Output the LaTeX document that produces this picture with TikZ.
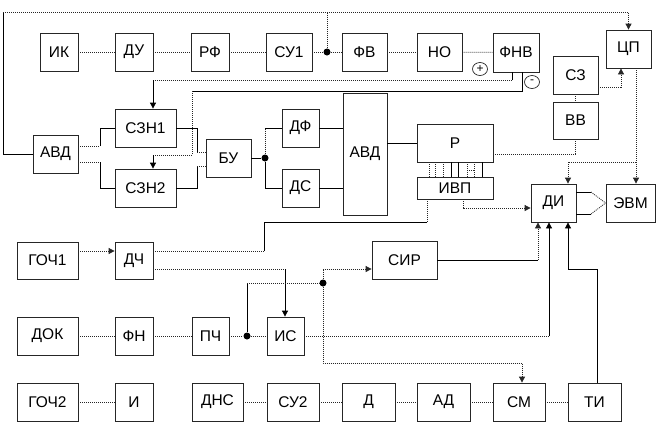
\documentclass[tikz,border=0pt]{standalone}
\usepackage{fontspec}
\setmainfont{Liberation Sans}
\usetikzlibrary{arrows.meta,shapes.geometric}
\begin{document}
\begin{tikzpicture}[x=1pt,y=-1pt,
  box/.style={draw=black!85, line width=0.8pt, fill=white, inner sep=0pt, font=\fontsize{15.5}{17}\selectfont},
  dl/.style={line width=0.8pt, dash pattern=on 1pt off 1pt, black!85},
  sl/.style={line width=0.8pt, black},
  arr/.style={-{Triangle[length=6pt,width=6pt]}},
  dotn/.style={circle, fill=black, inner sep=0pt, minimum size=7pt},
  pm/.style={ellipse, draw=black!85, line width=0.7pt, inner sep=0pt, minimum width=15pt, minimum height=13pt, font=\fontsize{12}{13}\selectfont}]
\useasboundingbox (0,0) rectangle (666,424);
\newcommand\bx[6]{\node[box,minimum width=#4pt,minimum height=#5pt] (#1) at (#2,#3) {#6};}
% row 1
\bx{ik}{59}{52}{38}{38}{ИК}
\bx{du}{134}{52}{38}{38}{ДУ}
\bx{rf}{210}{52}{38}{38}{РФ}
\bx{su1}{289}{52}{46}{38}{СУ1}
\bx{fv}{364.5}{52}{45}{38}{ФВ}
\bx{no}{439.5}{52}{45}{38}{НО}
\bx{fnv}{516}{52.5}{46}{39}{ФНВ}
\bx{cp}{628.5}{49}{45}{38}{ЦП}
\bx{sz}{575.5}{75}{45}{38}{СЗ}
\bx{vv}{575.5}{120.5}{45}{37}{ВВ}
% row 2
\bx{avd1}{55.5}{154}{45}{38}{АВД}
\bx{szn1}{145.5}{128}{61}{38}{СЗН1}
\bx{szn2}{145.5}{188}{61}{38}{СЗН2}
\bx{bu}{228.5}{158}{45}{38}{БУ}
\bx{df}{300.5}{128}{37}{38}{ДФ}
\bx{ds}{300.5}{188}{37}{38}{ДС}
\bx{avd2}{365}{154}{44}{122}{АВД}
\bx{r}{455}{143}{76}{38}{Р}
\bx{ivp}{455}{188}{76}{22}{ИВП}
\bx{di}{553.5}{203}{45}{38}{ДИ}
\bx{evm}{630.5}{203}{49}{38}{ЭВМ}
% row 3
\bx{goch1}{47.5}{260.5}{61}{37}{ГОЧ1}
\bx{dch}{134}{260.5}{38}{37}{ДЧ}
\bx{sir}{404.5}{260}{65}{38}{СИР}
% row 4
\bx{dok}{47.5}{336}{61}{38}{ДОК}
\bx{fn}{134}{336}{38}{38}{ФН}
\bx{pch}{210.5}{336}{37}{38}{ПЧ}
\bx{is}{285.5}{336}{37}{38}{ИС}
% row 5
\bx{goch2}{47.5}{402}{61}{38}{ГОЧ2}
\bx{ii}{134}{402}{38}{38}{И}
\bx{dns}{217.5}{402}{51}{38}{ДНС}
\bx{su2}{293}{402}{52}{38}{СУ2}
\bx{dd}{368.5}{402}{53}{38}{Д}
\bx{ad}{443.5}{402}{53}{38}{АД}
\bx{sm}{519}{402}{52}{38}{СМ}
\bx{ti}{594.5}{402}{53}{38}{ТИ}
% junction dots
\node[dotn] (j1) at (327,52) {};
\node[dotn] (j2) at (265,158) {};
\node[dotn] (j3) at (247,336) {};
\node[dotn] (j4) at (323,283) {};
% plus / minus
\node[pm] (plus) at (480,69) {+};
\node[pm] (minus) at (532,82) {-};
% coordinates
\coordinate (tl) at (3,12);
\coordinate (f1) at (512,80);
\coordinate (a1) at (153,0);
\coordinate (f2) at (522,91);
\coordinate (f3) at (192,91);
\coordinate (f4) at (192,155);
\coordinate (f5) at (153,155);
\coordinate (g1) at (621,87);
\coordinate (g2) at (575.5,154);
\coordinate (g3) at (636,162);
\coordinate (g4) at (568,0);
\coordinate (h1) at (100,146);
\coordinate (h2) at (100,162);
\coordinate (k1) at (197,152);
\coordinate (k2) at (197,166);
\coordinate (m1) at (463,208);
\coordinate (n1) at (264,251);
\coordinate (n2) at (264,222);
\coordinate (n3) at (427,222);
\coordinate (q1) at (591,192);
\coordinate (q2) at (591,214);
\coordinate (p1) at (285,269);
\coordinate (p2) at (247,283);
\coordinate (p3) at (323,269);
\coordinate (p4) at (323,363);
\coordinate (p5) at (522,363);
\coordinate (p6) at (549,336);
\coordinate (p7) at (538,260);
\coordinate (p8) at (597,269);
\coordinate (p9) at (568,269);
% top loop
\draw[sl] (avd1.west) -| (tl);
\draw[dl,arr] (tl) -| (cp.north);
\draw[dl] (j1) -- (j1 |- tl);
% row 1 chain
\draw[dl] (ik) -- (du);
\draw[dl] (du) -- (rf);
\draw[dl] (rf) -- (su1);
\draw[dl] (su1) -- (j1);
\draw[dl] (j1) -- (fv);
\draw[dl] (fv) -- (no);
\draw[dl] (no) -- (fnv);
% ФНВ feedback
\draw[sl] (fnv.south -| f1) -- (f1);
\draw[dl] (f1) -- (f1 -| a1);
\draw[sl,arr] (f1 -| a1) -- (szn1.north -| a1);
\draw[sl] (fnv.south -| f2) -- (f2) -- (f3);
\draw[dl] (f3) -- (f4) -- (f5);
\draw[sl,arr] (f5) -- (szn2.north -| f5);
% СЗ, ВВ, ЦП
\draw[dl,arr] (sz.east |- g1) -- (g1) -- (cp.south -| g1);
\draw[dl] (sz.south) -- (vv.north);
\draw[dl] (r.east |- g2) -- (g2) -- (vv.south);
\draw[dl,arr] (cp.south -| g3) -- (evm.north -| g3);
\draw[dl,arr] (g3) -| (di.north -| g4);
% АВД -> СЗН
\draw[dl] (avd1.east |- h1) -- (h1);
\draw[sl] (h1) |- (szn1.west);
\draw[dl] (avd1.east |- h2) -- (h2);
\draw[sl] (h2) |- (szn2.west);
% СЗН -> БУ
\draw[sl] (szn1.east) -| (k1);
\draw[dl] (k1) -- (bu.west |- k1);
\draw[sl] (szn2.east) -| (k2);
\draw[dl] (k2) -- (bu.west |- k2);
% БУ -> ДФ, ДС
\draw[sl] (bu.east) -- (j2);
\draw[dl] (j2) -- (j2 |- df.west);
\draw[sl] (j2 |- df.west) -- (df.west);
\draw[sl] (j2) |- (ds.west);
\draw[sl] (df.east) -- (df.east -| avd2.west);
\draw[sl] (ds.east) -- (ds.east -| avd2.west);
\draw[sl] (r.west -| avd2.east) -- (r.west);
% Р - ИВП bus
\foreach \x/\s in {429/dl,435/dl,443/dl,451/sl,458/sl,467/dl,474/dl,482/sl}{
  \coordinate (bx) at (\x,0);
  \draw[\s] (r.south -| bx) -- (ivp.north -| bx);
}
\coordinate (bh1) at (467,170);
\coordinate (bh2) at (474,170);
\draw[dl] (bh1) -- (bh2);
% ИВП -> ДИ
\draw[dl,arr] (ivp.south -| m1) -- (m1) -- (di.west |- m1);
% ДЧ -> ИВП
\draw[dl] (dch.east |- n1) -- (n1);
\draw[sl] (n1) -- (n2) -- (n3);
\draw[dl] (n3) -- (ivp.south -| n3);
% ДИ -> ЭВМ
\draw[sl] (di.east |- q1) -- (q1);
\draw[dl] (q1) -- (evm.west);
\draw[sl] (di.east |- q2) -- (q2);
\draw[dl] (q2) -- (evm.west);
% ГОЧ1 -> ДЧ
\draw[dl,arr] (goch1.east |- n1) -- (dch.west |- n1);
% ДЧ -> ИС
\draw[dl] (dch.east |- p1) -- (p1);
\draw[sl,arr] (p1) -- (is.north -| p1);
% row 3 chain
\draw[dl] (dok) -- (fn);
\draw[dl] (fn) -- (pch);
\draw[dl] (pch) -- (j3);
\draw[dl] (j3) -- (is);
\draw[sl] (j3) -- (p2);
\draw[dl] (p2) -- (j4);
\draw[dl,arr] (j4) -- (p3) -- (sir.west |- p3);
\draw[dl,arr] (j4) -- (p4) -- (p5) -- (sm.north -| p5);
\draw[dl] (is.east) -- (p6);
\draw[sl,arr] (p6) -- (di.south -| p6);
\draw[sl] (sir.east |- p7) -- (p7);
\draw[dl,arr] (p7) -- (di.south -| p7);
\draw[sl,arr] (ti.north -| p8) -- (p8) -- (p9) -- (di.south -| p9);
% row 4 chain
\draw[dl] (goch2) -- (ii);
\draw[dl] (dns) -- (su2);
\draw[dl] (su2) -- (dd);
\draw[dl] (dd) -- (ad);
\draw[dl] (ad) -- (sm);
\draw[dl] (sm) -- (ti);
\end{tikzpicture}
\end{document}
